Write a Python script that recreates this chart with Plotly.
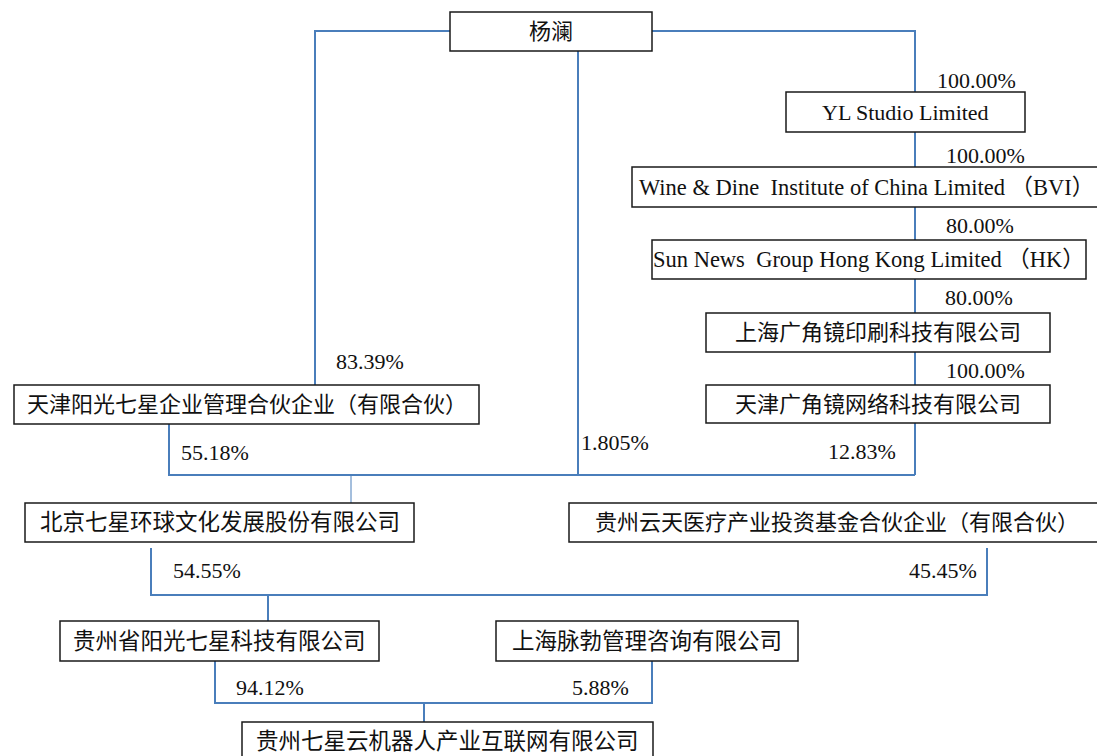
import plotly.graph_objects as go

# ---- data ----
entities = [
    "杨澜",
    "YL Studio Limited",
    "Wine & Dine  Institute of China Limited （BVI）",
    "Sun News  Group Hong Kong Limited （HK）",
    "上海广角镜印刷科技有限公司",
    "天津广角镜网络科技有限公司",
    "天津阳光七星企业管理合伙企业（有限合伙）",
    "北京七星环球文化发展股份有限公司",
    "贵州云天医疗产业投资基金合伙企业（有限合伙）",
    "贵州省阳光七星科技有限公司",
    "上海脉勃管理咨询有限公司",
    "贵州七星云机器人产业互联网有限公司",
]
stakes = ["100.00%", "100.00%", "80.00%", "80.00%", "100.00%", "12.83%",
          "83.39%", "1.805%", "55.18%", "54.55%", "45.45%", "94.12%", "5.88%"]

# ---- layout (page pixel coordinates) ----
box_pos = [  # x0, x1, y0, y1, font size
    (450, 652, 12, 51, 22),
    (786, 1025, 92, 132, 22),
    (632, 1100, 167, 207, 22.5),
    (652, 1086, 240, 279, 22.5),
    (706, 1050, 313, 352, 22),
    (706, 1050, 385, 423, 22),
    (14, 479, 385, 424, 22),
    (25, 414, 503, 542, 22.5),
    (569, 1104, 503, 542, 22),
    (60, 379, 621, 661, 22.5),
    (496, 798, 621, 661, 22.5),
    (242, 653, 722, 765, 22.5),
]
label_pos = [
    (976, 80), (985, 155), (980, 225), (979, 297), (985, 370), (862, 451),
    (370, 361), (615, 442), (215, 452), (207, 570), (943, 570), (270, 687), (600, 687),
]
connectors = [  # (xs, ys, width)
    ([450, 315, 315], [31, 31, 385], 2),
    ([652, 915, 915], [31, 31, 92], 2),
    ([915, 915], [132, 167], 2),
    ([915, 915], [207, 240], 2),
    ([915, 915], [279, 313], 2),
    ([915, 915], [352, 385], 2),
    ([915, 915], [423, 475], 2),
    ([578, 578], [51, 475], 2),
    ([169, 169, 915], [424, 475, 475], 2),
    ([351, 351], [475, 503], 1),
    ([151, 151, 987, 987], [548, 595, 595, 548], 2),
    ([268, 268], [595, 621], 2),
    ([215, 215, 652, 652], [661, 703, 703, 661], 2),
    ([424, 424], [703, 722], 2),
]

LINE = "#4a7ebb"
FONT = "Liberation Serif, Noto Sans CJK SC, serif"
TXT = "#111111"
PAGE_OFFSET = 8  # default body margin of the html page

fig = go.Figure()
for xs, ys, w in connectors:
    fig.add_trace(go.Scatter(x=xs, y=ys, mode="lines",
                             line=dict(color=LINE, width=w),
                             hoverinfo="skip", showlegend=False))

shapes = []
annotations = []
for name, (x0, x1, y0, y1, fs) in zip(entities, box_pos):
    shapes.append(dict(type="rect", xref="x", yref="y", x0=x0, x1=x1, y0=y0, y1=y1,
                       line=dict(color="#1a1a1a", width=1.5), fillcolor="white",
                       layer="above"))
    yc = (y0 + 760) / 2 if y1 > 756 else (y0 + y1) / 2
    annotations.append(dict(x=(x0 + x1) / 2, y=yc, xref="x", yref="y",
                            text=name, showarrow=False,
                            font=dict(family=FONT, size=fs, color=TXT)))
for s, (x, y) in zip(stakes, label_pos):
    annotations.append(dict(x=x, y=y, xref="x", yref="y", text=s, showarrow=False,
                            font=dict(family=FONT, size=22, color=TXT)))

fig.update_layout(
    width=1105 - PAGE_OFFSET, height=756 - PAGE_OFFSET,
    margin=dict(l=0, r=0, t=0, b=0),
    paper_bgcolor="white", plot_bgcolor="white",
    xaxis=dict(range=[PAGE_OFFSET, 1105], visible=False, fixedrange=True),
    yaxis=dict(range=[756, PAGE_OFFSET], visible=False, fixedrange=True),
    shapes=shapes, annotations=annotations,
    showlegend=False,
)
fig.write_html("out.html")
